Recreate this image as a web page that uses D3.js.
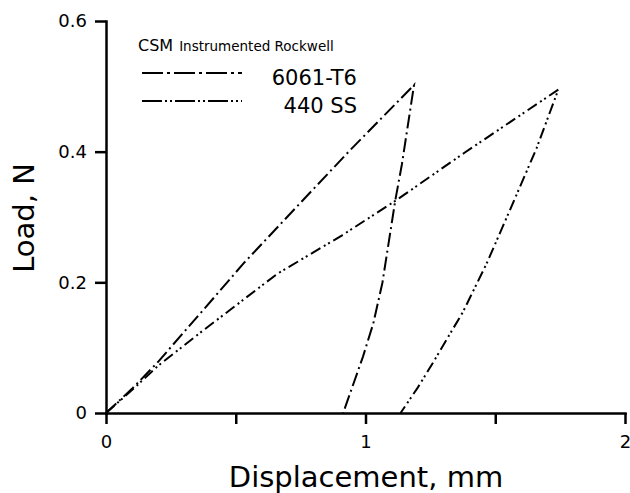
<!DOCTYPE html>
<html>
<head>
<meta charset="utf-8">
<script src="https://cdn.jsdelivr.net/npm/d3@7"></script>
<style>
	body { margin: 0; background: #fff; }
	svg { display: block; font-family: "DejaVu Sans", Verdana, sans-serif; }
	.axis path, .axis line { stroke: #000; stroke-width: 2.5; }
	.axis text { font-size: 18px; fill: #000; font-family: "DejaVu Sans", Verdana, sans-serif; }
	.curve { fill: none; stroke: #000; stroke-width: 2; }
</style>
</head>
<body>
<svg width="630" height="493"></svg>
<script>
// 6061-T6 : loading then unloading
var alDisp = [0, 0.1, 0.2, 0.43, 0.53, 0.75, 0.94, 1.187, 1.14, 1.115, 1.065, 1.03, 0.99, 0.914];
var alLoad = [0, 0.037, 0.078, 0.183, 0.229, 0.322, 0.402, 0.502, 0.38, 0.326, 0.199, 0.137, 0.086, 0];

// 440 SS : loading then unloading
var ssDisp = [0, 0.1, 0.2, 0.36, 0.66, 0.91, 1.12, 1.38, 1.5, 1.743, 1.659, 1.557, 1.467, 1.376, 1.26, 1.2, 1.135];
var ssLoad = [0, 0.035, 0.072, 0.122, 0.213, 0.272, 0.326, 0.398, 0.43, 0.495, 0.405, 0.311, 0.229, 0.155, 0.077, 0.038, 0];

var seriesNames = ["6061-T6", "440 SS"];
var xTicks = [0, 0.5, 1, 1.5, 2];
var yTicks = [0, 0.2, 0.4, 0.6];

(function () {
	var svg = d3.select("svg");

	var x = d3.scaleLinear().domain([0, 2]).range([106, 625]);
	var y = d3.scaleLinear().domain([0, 0.6]).range([413, 21]);

	svg.append("g")
		.attr("class", "axis")
		.attr("transform", "translate(0," + y(0) + ")")
		.call(d3.axisBottom(x)
			.tickValues(xTicks)
			.tickSize(11)
			.tickSizeOuter(0)
			.tickPadding(11)
			.tickFormat(function (d) { return d % 1 === 0 ? d3.format("d")(d) : ""; }));

	svg.append("g")
		.attr("class", "axis")
		.attr("transform", "translate(" + x(0) + ",0)")
		.call(d3.axisLeft(y)
			.tickValues(yTicks)
			.tickSize(11)
			.tickSizeOuter(0)
			.tickPadding(8)
			.tickFormat(function (d) { return d === 0 ? "0" : d3.format(".1f")(d); }));

	svg.selectAll(".axis .domain").attr("stroke-linecap", "square");

	svg.append("text")
		.attr("x", 366)
		.attr("y", 487)
		.attr("text-anchor", "middle")
		.style("font-size", "29px")
		.text("Displacement, mm");

	svg.append("text")
		.attr("transform", "translate(34,218) rotate(-90)")
		.attr("text-anchor", "middle")
		.style("font-size", "29px")
		.text("Load, N");

	var line = d3.line()
		.x(function (d) { return x(d[0]); })
		.y(function (d) { return y(d[1]); });

	var curves = [
		{ name: seriesNames[0], pts: d3.zip(alDisp, alLoad), dash: "14,4,2,4", legDash: "21,4,3,4" },
		{ name: seriesNames[1], pts: d3.zip(ssDisp, ssLoad), dash: "11,4,2,3,2,4", legDash: "20,3,2,3,2,3" }
	];

	svg.selectAll(".curve")
		.data(curves)
		.enter().append("path")
		.attr("class", "curve")
		.attr("stroke-dasharray", function (d) { return d.dash; })
		.attr("stroke-linejoin", "miter")
		.attr("d", function (d) { return line(d.pts); });

	// legend
	var leg = svg.append("g");
	var title = leg.append("text").attr("x", 138).attr("y", 51);
	title.append("tspan").style("font-size", "16px").text("CSM");
	title.append("tspan").attr("dx", 6).style("font-size", "13.5px").text("Instrumented Rockwell");

	var rows = leg.selectAll(".row")
		.data(curves)
		.enter().append("g")
		.attr("class", "row")
		.attr("transform", function (d, i) { return "translate(0," + (i * 28) + ")"; });

	rows.append("line")
		.attr("x1", 142).attr("x2", 242)
		.attr("y1", 73).attr("y2", 73)
		.attr("stroke", "#000")
		.attr("stroke-width", 2)
		.attr("stroke-dasharray", function (d) { return d.legDash; });

	rows.append("text")
		.attr("x", 357)
		.attr("y", 85)
		.attr("text-anchor", "end")
		.style("font-size", "21px")
		.text(function (d) { return d.name; });
}) ();
</script>
</body>
</html>
